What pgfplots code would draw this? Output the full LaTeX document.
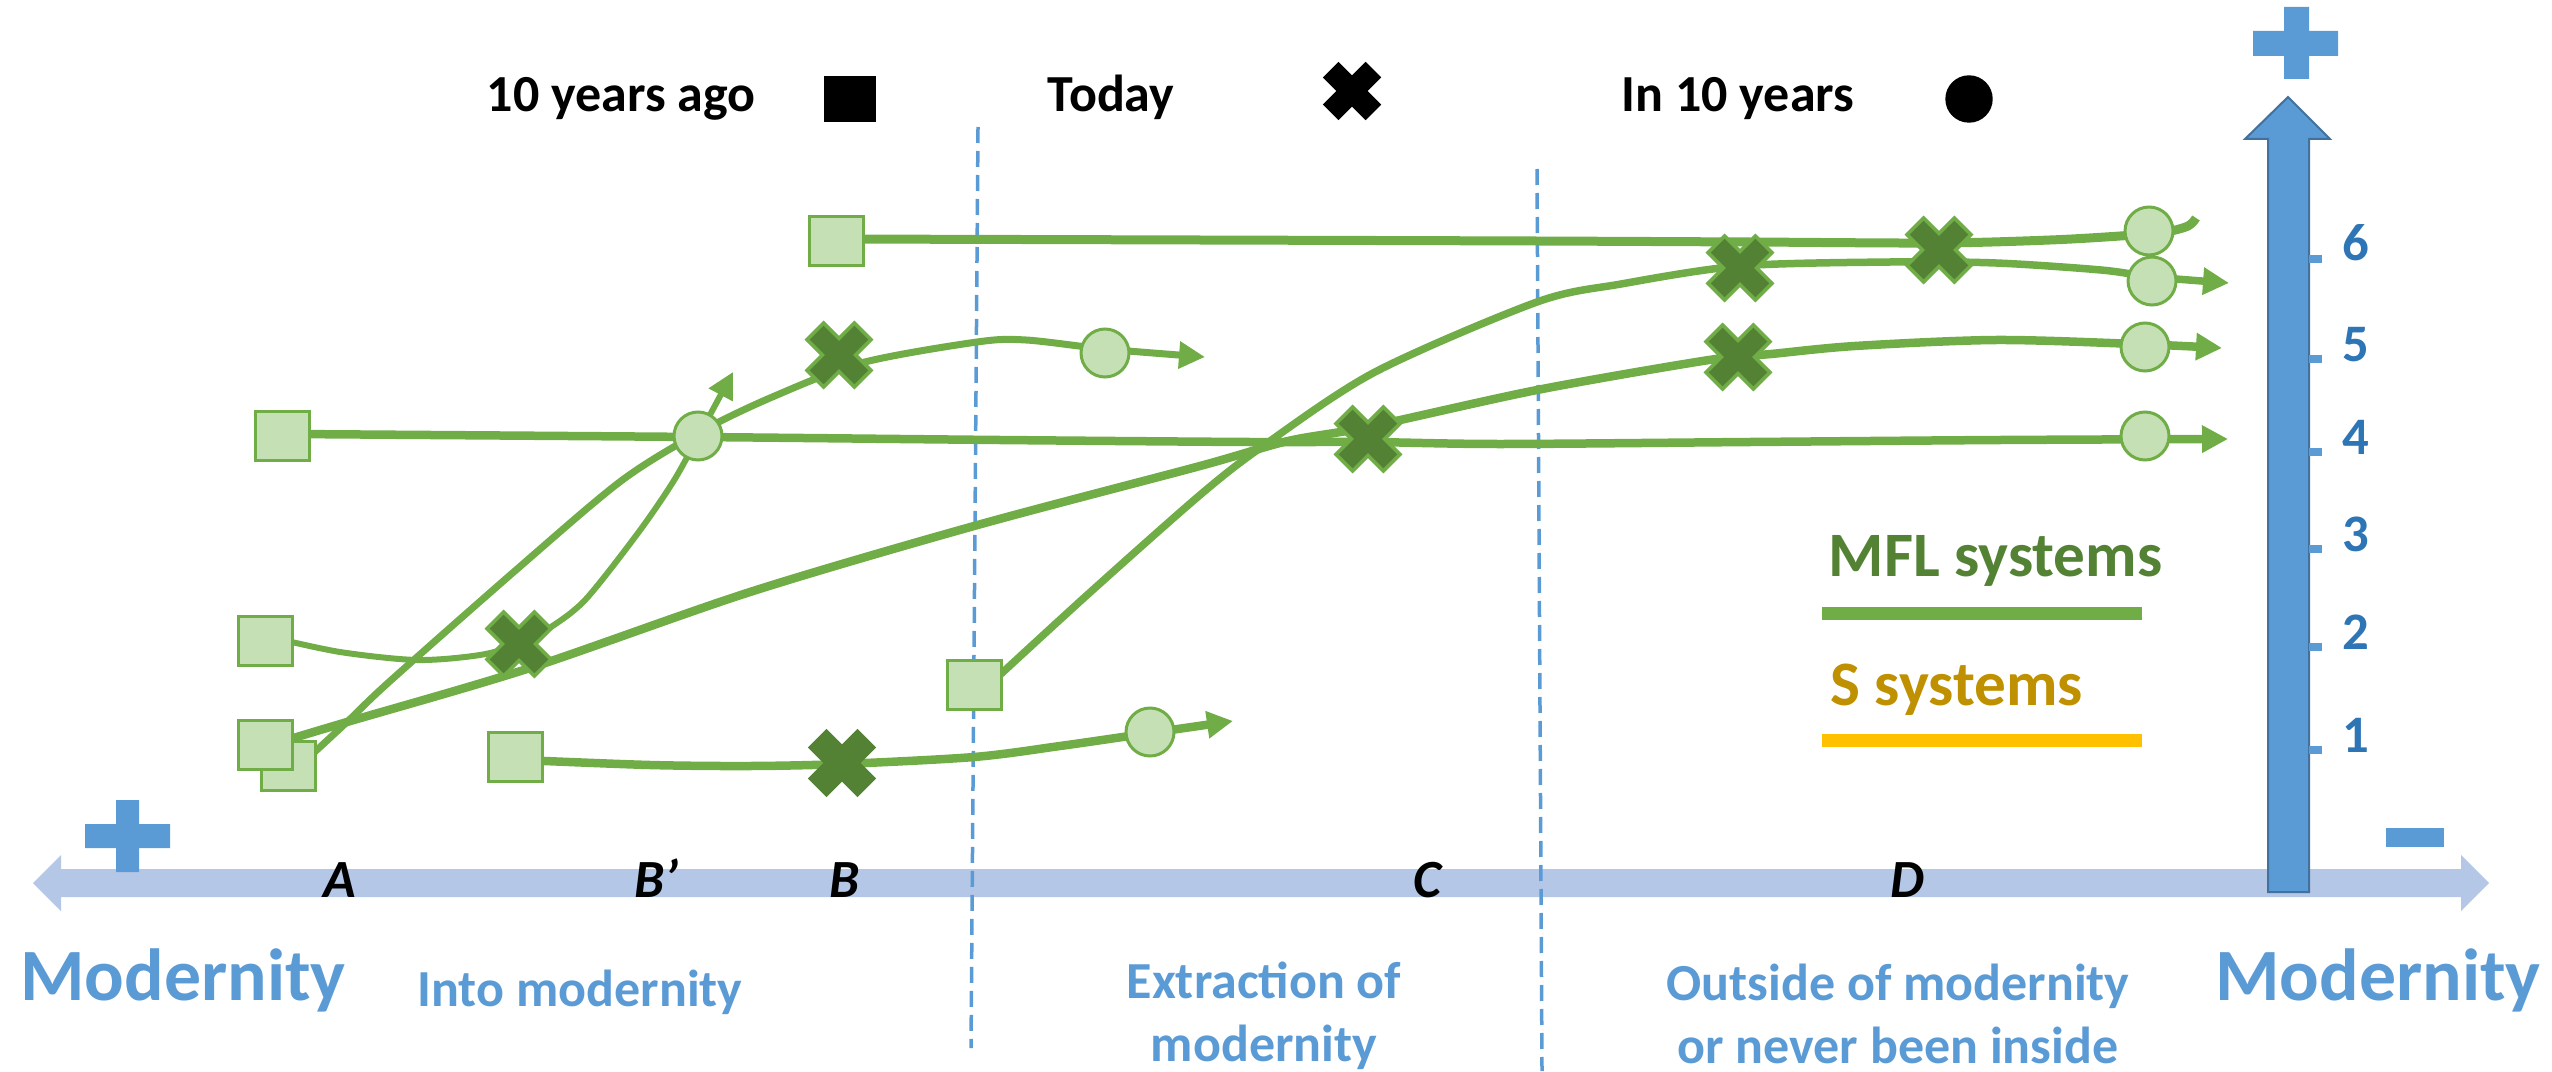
\documentclass[border=0pt]{standalone}
\usepackage{fontspec}
\setmainfont{Carlito}
\usepackage{pgfplots}
\pgfplotsset{compat=1.18}
\usetikzlibrary{arrows.meta}

\definecolor{lgreen}{HTML}{C5E0B4}
\definecolor{mgreen}{HTML}{70AD47}
\definecolor{dgreen}{HTML}{548235}
\definecolor{mblue}{HTML}{5B9BD5}
\definecolor{dblue}{HTML}{41719C}
\definecolor{nblue}{HTML}{2E75B6}
\definecolor{band}{HTML}{B4C7E7}
\definecolor{sgold}{HTML}{BF9000}
\definecolor{sbar}{HTML}{FFC000}

% box mark, a bit wider than tall
\pgfdeclareplotmark{rect}{%
  \pgfpathrectangle{\pgfqpoint{-\pgfplotmarksize}{-0.89\pgfplotmarksize}}{\pgfqpoint{2\pgfplotmarksize}{1.78\pgfplotmarksize}}%
  \pgfusepathqfillstroke}
% heavy cross mark (plus turned by 45 degrees)
\pgfdeclareplotmark{bigx}{%
  \pgfpathmoveto{\pgfqpoint{-0.46\pgfplotmarksize}{0.955\pgfplotmarksize}}%
  \pgfpathlineto{\pgfqpoint{0pt}{0.495\pgfplotmarksize}}%
  \pgfpathlineto{\pgfqpoint{0.46\pgfplotmarksize}{0.955\pgfplotmarksize}}%
  \pgfpathlineto{\pgfqpoint{0.955\pgfplotmarksize}{0.46\pgfplotmarksize}}%
  \pgfpathlineto{\pgfqpoint{0.495\pgfplotmarksize}{0pt}}%
  \pgfpathlineto{\pgfqpoint{0.955\pgfplotmarksize}{-0.46\pgfplotmarksize}}%
  \pgfpathlineto{\pgfqpoint{0.46\pgfplotmarksize}{-0.955\pgfplotmarksize}}%
  \pgfpathlineto{\pgfqpoint{0pt}{-0.495\pgfplotmarksize}}%
  \pgfpathlineto{\pgfqpoint{-0.46\pgfplotmarksize}{-0.955\pgfplotmarksize}}%
  \pgfpathlineto{\pgfqpoint{-0.955\pgfplotmarksize}{-0.46\pgfplotmarksize}}%
  \pgfpathlineto{\pgfqpoint{-0.495\pgfplotmarksize}{0pt}}%
  \pgfpathlineto{\pgfqpoint{-0.955\pgfplotmarksize}{0.46\pgfplotmarksize}}%
  \pgfpathclose
  \pgfusepathqfillstroke}

\pgfplotsset{
  traj/.style={mgreen, mark=none, smooth, line width=0.85mm},
  tip/.style={-{Triangle[length=2.6mm,width=2.6mm]}},
  sq/.style={only marks, mgreen, mark=rect, mark size=2.7mm,
    mark options={fill=lgreen, draw=mgreen, line width=0.3mm}},
  ci/.style={only marks, mgreen, mark=*, mark size=2.4mm,
    mark options={fill=lgreen, draw=mgreen, line width=0.3mm}},
  xx/.style={only marks, dgreen, mark=bigx, mark size=3.35mm,
    mark options={fill=dgreen, draw=mgreen, line width=0.35mm}},
}

\begin{document}
\begin{tikzpicture}
\begin{axis}[
  name=ax, at={(0,0)}, anchor=south west,
  scale only axis, width=255.2mm, height=107.1mm,
  xmin=0, xmax=2552, ymin=0, ymax=1071, y dir=reverse,
  hide axis, clip=false,
]
  % modernity axis (double arrow)
  \addplot[fill=band, draw=none, mark=none] coordinates {
    (33,883) (61,855) (61,869) (2461,869) (2461,855) (2489,883)
    (2461,911) (2461,897) (61,897) (61,911)} --cycle;

  % zone separators
  \addplot[mblue, mark=none, line width=0.35mm, dash pattern=on 1.6mm off 0.8mm]
    coordinates {(978,127) (971,1048)};
  \addplot[mblue, mark=none, line width=0.35mm, dash pattern=on 1.6mm off 0.8mm]
    coordinates {(1537,169) (1542,1071)};

  % vertical scale arrow
  \addplot[fill=mblue, draw=dblue, line width=0.2mm, mark=none] coordinates {
    (2268,892) (2309,892) (2309,139) (2330,139) (2288,97) (2245,139) (2268,139)} --cycle;
  \addplot[only marks, mblue, mark=-, mark size=0.65mm, mark options={line width=0.8mm}]
    coordinates {(2315,259) (2315,359) (2315,452) (2315,549) (2315,647) (2315,750)};

  % plus / minus signs
  \addplot[fill=mblue, draw=none, mark=none] coordinates {
    (2284,7) (2309,7) (2309,31) (2338,31) (2338,56) (2309,56)
    (2309,79) (2284,79) (2284,56) (2253,56) (2253,31) (2284,31)} --cycle;
  \addplot[fill=mblue, draw=none, mark=none] coordinates {
    (116,800) (139,800) (139,824) (170,824) (170,848) (139,848)
    (139,872) (116,872) (116,848) (85,848) (85,824) (116,824)} --cycle;
  \addplot[fill=mblue, draw=none, mark=none] coordinates {
    (2386,828) (2444,828) (2444,847) (2386,847)} --cycle;

  % key bars
  \addplot[mgreen, mark=none, line width=1.3mm] coordinates {(1822,613.5) (2142,613.5)};
  \addplot[sbar, mark=none, line width=1.3mm] coordinates {(1822,740.5) (2142,740.5)};

  % 10 years ago
  \addplot[sq] coordinates {(288,766)};
  \addplot[sq] coordinates {(836,241) (282,436) (265,641) (265,745) (515,757) (974,685)};
  % in 10 years
  \addplot[ci] coordinates {(698,436) (1105,353) (1150,732) (2149,231) (2152,281) (2145,347) (2145,436)};
  % today (under the lines)
  \addplot[xx] coordinates {(839,355)};
  \addplot[xx, mark options={fill=dgreen, draw=dgreen, line width=0.3mm}] coordinates {(842,763)};

  % trajectories
  \addplot[traj, line width=0.9mm] coordinates {
    (839,239) (1200,240) (1536,241) (1750,242) (1938,243) (2050,240)
    (2120,236) (2165,232) (2188,226) (2196,218)};
  \addplot[traj, tip] coordinates {
    (290,434) (698,437) (1000,440) (1250,442) (1368,442) (1500,444)
    (1750,442) (2000,440) (2228,439)};
  \addplot[traj, tip, line width=0.6mm] coordinates {
    (270,637) (340,652) (417,660) (480,655) (519,644) (551,627)
    (586,599) (638,533) (673,482) (698,437) (733,372)};
  \addplot[traj, tip, line width=0.7mm] coordinates {
    (307,759) (347,722) (389,682) (516,570) (621,481) (700,432)
    (770,398) (861,363) (977,342) (1026,340) (1105,349) (1205,357)};
  \addplot[traj, tip] coordinates {
    (267,746) (347,722) (530,668) (750,592) (974,526) (1200,466)
    (1288,441) (1368,427) (1537,390) (1709,360) (1771,354) (1855,346)
    (1996,340) (2136,344) (2222,348)};
  \addplot[traj, tip, line width=0.75mm] coordinates {
    (977,696) (1086,596) (1200,495) (1263,446) (1375,372) (1537,302)
    (1621,284) (1740,266) (1890,262) (1996,263) (2101,270) (2153,277) (2229,283)};
  \addplot[traj, tip] coordinates {
    (521,760) (650,765) (750,766) (842,764) (974,757) (1060,746)
    (1150,733) (1233,721)};

  % today (over the lines)
  \addplot[xx] coordinates {(519,644) (1939,250) (1368,439) (1738,357) (1740,268)};

  % time key
  \addplot[only marks, black, mark=rect, mark size=2.5mm] coordinates {(850,99)};
  \addplot[only marks, black, mark=bigx, mark size=2.95mm] coordinates {(1352,91)};
  \addplot[only marks, black, mark=*, mark size=2.3mm] coordinates {(1969,99)};

  \begin{scope}[every node/.style={inner sep=0pt, anchor=base}]
    \node[font=\fontsize{14.8}{17}\selectfont\bfseries] at (axis cs:621,112) {10 years ago};
    \node[font=\fontsize{14.8}{17}\selectfont\bfseries] at (axis cs:1111,112) {Today};
    \node[font=\fontsize{14.8}{17}\selectfont\bfseries] at (axis cs:1738,112) {In 10 years};

    \node[font=\fontsize{21}{24}\selectfont\bfseries, text=mblue] at (axis cs:183,1000) {Modernity};
    \node[font=\fontsize{21}{24}\selectfont\bfseries, text=mblue] at (axis cs:2378,1000) {Modernity};
    \node[font=\fontsize{14.8}{17}\selectfont\bfseries, text=mblue] at (axis cs:580,1006) {Into modernity};
    \node[font=\fontsize{14.8}{17}\selectfont\bfseries, text=mblue] at (axis cs:1264,998) {Extraction of};
    \node[font=\fontsize{14.8}{17}\selectfont\bfseries, text=mblue] at (axis cs:1264,1061) {modernity};
    \node[font=\fontsize{14.8}{17}\selectfont\bfseries, text=mblue] at (axis cs:1898,1000) {Outside of modernity};
    \node[font=\fontsize{14.8}{17}\selectfont\bfseries, text=mblue] at (axis cs:1898,1063) {or never been inside};

    \node[font=\fontsize{15.3}{17}\selectfont\bfseries\itshape] at (axis cs:340,897) {A};
    \node[font=\fontsize{15.3}{17}\selectfont\bfseries\itshape] at (axis cs:656,897) {B’};
    \node[font=\fontsize{15.3}{17}\selectfont\bfseries\itshape] at (axis cs:845,897) {B};
    \node[font=\fontsize{15.3}{17}\selectfont\bfseries\itshape] at (axis cs:1427,897) {C};
    \node[font=\fontsize{15.3}{17}\selectfont\bfseries\itshape] at (axis cs:1907,897) {D};

    \node[font=\fontsize{15}{17}\selectfont\bfseries, text=nblue] at (axis cs:2356,261) {6};
    \node[font=\fontsize{15}{17}\selectfont\bfseries, text=nblue] at (axis cs:2356,361) {5};
    \node[font=\fontsize{15}{17}\selectfont\bfseries, text=nblue] at (axis cs:2356,454) {4};
    \node[font=\fontsize{15}{17}\selectfont\bfseries, text=nblue] at (axis cs:2356,551) {3};
    \node[font=\fontsize{15}{17}\selectfont\bfseries, text=nblue] at (axis cs:2356,649) {2};
    \node[font=\fontsize{15}{17}\selectfont\bfseries, text=nblue] at (axis cs:2356,752) {1};

    \node[anchor=base west, font=\fontsize{18}{21}\selectfont\bfseries, text=dgreen] at (axis cs:1828,576) {MFL systems};
    \node[anchor=base west, font=\fontsize{18}{21}\selectfont\bfseries, text=sgold] at (axis cs:1830,705) {S systems};
  \end{scope}
\end{axis}
\pgfresetboundingbox
\path (ax.south west) rectangle (ax.north east);
\end{tikzpicture}
\end{document}
